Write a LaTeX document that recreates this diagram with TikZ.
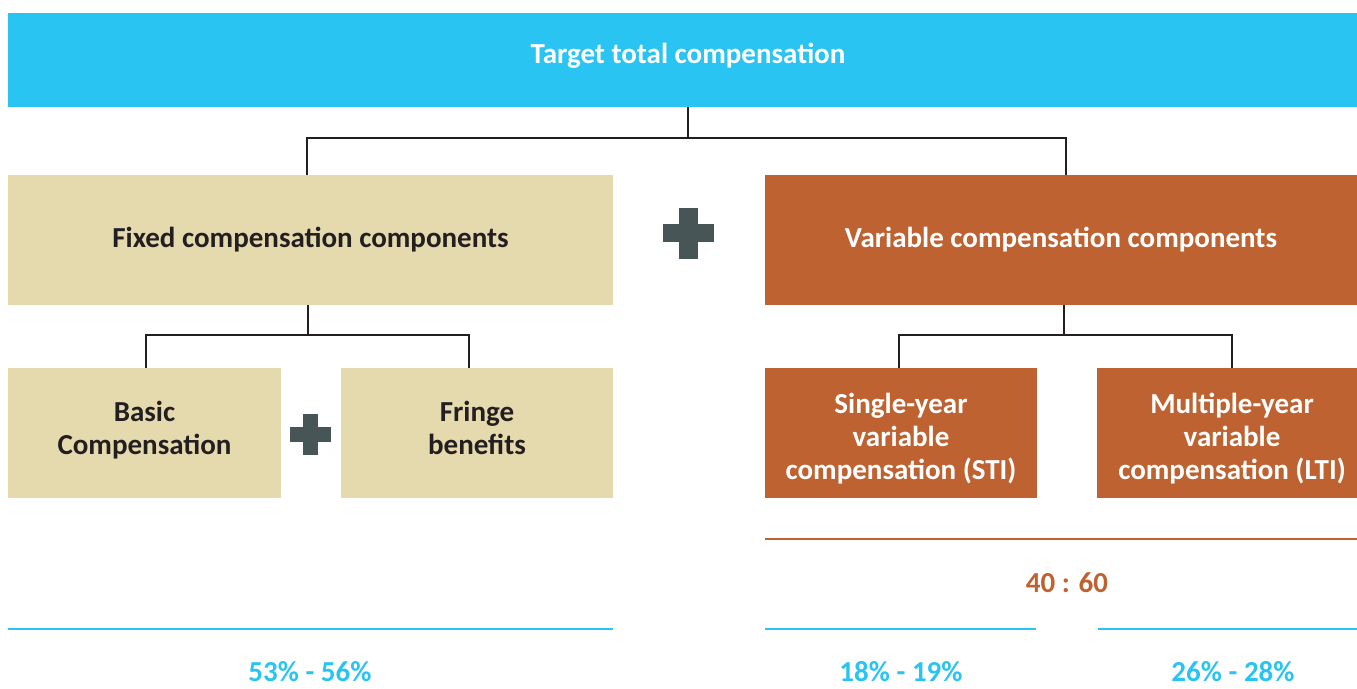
\documentclass[tikz,border=0pt]{standalone}
\usepackage{fontspec}
\setmainfont{Carlito}
\definecolor{cblue}{HTML}{29C4F2}
\definecolor{cbeige}{HTML}{E5D9AE}
\definecolor{corange}{HTML}{BE6231}
\definecolor{cplus}{HTML}{475556}
\definecolor{cdark}{HTML}{231F20}
\tikzset{
  box/.style={rectangle, inner sep=0pt, outer sep=0pt, align=center, font=\fontsize{29}{33}\selectfont\bfseries},
  fixbox/.style={box, fill=cbeige, text=cdark},
  varbox/.style={box, fill=corange, text=white},
  conn/.style={draw=cdark, line width=2.4pt},
  pct/.style={font=\fontsize{29}{30}\selectfont\bfseries, text=cblue, inner sep=0pt, text depth=0pt},
  bline/.style={draw=cblue, line width=2.5pt},
  oline/.style={draw=corange, line width=2.5pt},
  plusc/.style={fill=cplus, draw=none}
}
\begin{document}
\begin{tikzpicture}[x=1pt,y=-1pt]
\useasboundingbox (0,0) rectangle (1357,688);
% top
\node[box, fill=cblue, minimum width=1349pt, minimum height=94pt] (top) at (682.5,60) {};
\node[text=white, font=\fontsize{29}{30}\selectfont\bfseries, inner sep=0pt] (toptxt) at (688,56) {Target total compensation};
% level 2
\node[fixbox, minimum width=605pt, minimum height=130pt] (fixed) at (310.5,240) {Fixed compensation components};
\node[varbox, minimum width=592pt, minimum height=130pt] (var) at (1061,240) {Variable compensation components};
% level 3
\node[fixbox, minimum width=273pt, minimum height=130pt] (basic) at (144.5,433) {};
\node[fixbox, minimum width=272pt, minimum height=130pt] (fringe) at (477,433) {};
\node[box, text=cdark] (basictxt) at (144.5,430) {Basic\\Compensation};
\node[box, text=cdark] (fringetxt) at (477,428) {Fringe\\benefits};
\node[varbox, minimum width=272pt, minimum height=130pt] (sti) at (901,433) {};
\node[varbox, minimum width=260pt, minimum height=130pt] (lti) at (1227,433) {};
\node[box, text=white] (stitxt) at (901,439) {Single-year\\variable\\compensation (STI)};
\node[box, text=white] (ltitxt) at (1232,439) {Multiple-year\\variable\\compensation (LTI)};
% connector coordinates
\coordinate (tj) at (688,138);
\coordinate (tf) at (307,175);
\coordinate (tv) at (1066,175);
\coordinate (fj) at (308,335);
\coordinate (fb) at (146,368);
\coordinate (ff) at (469,368);
\coordinate (vj) at (1064,335);
\coordinate (vs) at (899,368);
\coordinate (vl) at (1232,368);
\draw[conn] (top.south -| tj) -- (tj);
\draw[conn] (tf) |- (tj) -| (tv);
\draw[conn] (fixed.south -| fj) -- (fj);
\draw[conn] (fb) |- (fj) -| (ff);
\draw[conn] (var.south -| vj) -- (vj);
\draw[conn] (vs) |- (vj) -| (vl);
% plus signs
\node[plusc, minimum width=51pt, minimum height=18.5pt, inner sep=0pt] (p1h) at (688.5,233) {};
\node[plusc, minimum width=18.5pt, minimum height=51pt, inner sep=0pt] (p1v) at (688.5,233.5) {};
\node[plusc, minimum width=41pt, minimum height=15pt, inner sep=0pt] (p2h) at (310.5,434) {};
\node[plusc, minimum width=15pt, minimum height=41pt, inner sep=0pt] (p2v) at (310.5,434.5) {};
% lines and values
\coordinate (ol1) at (765,539);
\coordinate (ol2) at (1357,539);
\draw[oline] (ol1) -- (ol2);
\node[font=\fontsize{29}{30}\selectfont\bfseries, text=corange, inner sep=0pt] (ratio) at (1067,583) {40 : 60};
\coordinate (b1a) at (8,629);
\coordinate (b1b) at (613,629);
\coordinate (b2a) at (765,629);
\coordinate (b2b) at (1036,629);
\coordinate (b3a) at (1098,629);
\coordinate (b3b) at (1357,629);
\draw[bline] (b1a) -- (b1b);
\draw[bline] (b2a) -- (b2b);
\draw[bline] (b3a) -- (b3b);
\node[pct, anchor=base] (v1) at (310,681) {53\% - 56\%};
\node[pct, anchor=base] (v2) at (901,681) {18\% - 19\%};
\node[pct, anchor=base] (v3) at (1233,681) {26\% - 28\%};
\end{tikzpicture}
\end{document}
